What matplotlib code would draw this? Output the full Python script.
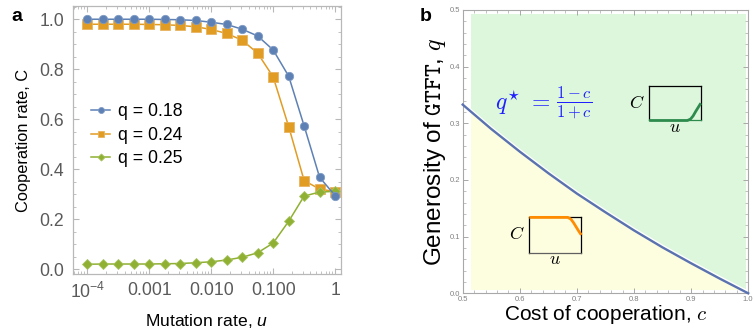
import numpy as np
import matplotlib
matplotlib.use('Agg')
import matplotlib.pyplot as plt
import matplotlib.transforms as mtransforms
from matplotlib.patches import Rectangle
from matplotlib.ticker import FixedLocator, MultipleLocator, LogLocator, NullFormatter, FixedFormatter

plt.rcParams['font.family'] = ['Liberation Sans', 'DejaVu Sans']
plt.rcParams['mathtext.fontset'] = 'custom'
plt.rcParams['mathtext.it'] = 'Liberation Sans:italic'
plt.rcParams['mathtext.rm'] = 'Liberation Sans'

# ---------------- data: panel a ----------------
mutation_rate = [0.0001, 0.000178, 0.000316, 0.000562, 0.001, 0.00178, 0.00316,
                 0.00562, 0.01, 0.0178, 0.0316, 0.0562, 0.1, 0.178, 0.316, 0.562, 1.0]
coop_q018 = [1.0, 1.0, 1.0, 1.0, 1.0, 0.999, 0.998, 0.995, 0.988, 0.979, 0.960,
             0.933, 0.877, 0.772, 0.573, 0.367, 0.294]
coop_q024 = [0.980, 0.980, 0.980, 0.980, 0.979, 0.978, 0.975, 0.970, 0.959, 0.943,
             0.916, 0.864, 0.769, 0.570, 0.354, 0.320, 0.310]
coop_q025 = [0.019, 0.020, 0.020, 0.020, 0.020, 0.021, 0.022, 0.025, 0.029, 0.036,
             0.047, 0.065, 0.104, 0.191, 0.292, 0.308, 0.311]
series_labels = ['q = 0.18', 'q = 0.24', 'q = 0.25']
xtick_values = [1e-4, 1e-3, 1e-2, 1e-1, 1]
xtick_labels = [r'10$^{-4}$', '0.001', '0.010', '0.100', '1']
ytick_values_a = [0.0, 0.2, 0.4, 0.6, 0.8, 1.0]

# ---------------- data: panel b ----------------
cost = [0.50, 0.55, 0.60, 0.65, 0.70, 0.75, 0.80, 0.85, 0.90, 0.95, 1.00]
q_star = [0.333, 0.290, 0.250, 0.212, 0.176, 0.143, 0.111, 0.081, 0.053, 0.026, 0.0]
inset_u = [0.0, 0.2, 0.4, 0.6, 0.7, 0.74, 0.8, 0.85, 0.9, 0.95, 1.0]
inset_C_below = [1.0, 1.0, 1.0, 1.0, 1.0, 1.0, 0.95, 0.85, 0.73, 0.61, 0.50]
inset_C_above = [0.0, 0.0, 0.0, 0.0, 0.0, 0.0, 0.04, 0.13, 0.26, 0.38, 0.50]

blue = '#5e81b5'
orange = '#e19c24'
green = '#8fb032'

W, H = 754, 335
fig = plt.figure(figsize=(W / 100, H / 100), dpi=100)

def fr(x0, y0, x1, y1):
    return [x0 / W, 1 - y1 / H, (x1 - x0) / W, (y1 - y0) / H]

# ================= panel a =================
ax = fig.add_axes(fr(72.7, 6, 340.7, 274))
ax.set_xscale('log')
ax.plot(mutation_rate, coop_q018, '-o', color=blue, lw=1.1, ms=6.0,
        mec='#7f9bc4', mew=0.6, label=series_labels[0], zorder=3)
ax.plot(mutation_rate, coop_q024, '-s', color=orange, lw=1.1, ms=6.6,
        mec='#e8b360', mew=0.6, label=series_labels[1], zorder=2)
ax.plot(mutation_rate, coop_q025, '-D', color=green, lw=1.1, ms=5.0,
        mec='#a6c35f', mew=0.6, label=series_labels[2], zorder=2)
ax.set_xlim(10 ** -4.236, 10 ** 0.09)
ax.set_ylim(-0.02, 1.053)
ax.xaxis.set_major_locator(FixedLocator(xtick_values))
ax.xaxis.set_major_formatter(FixedFormatter(xtick_labels))
ax.xaxis.set_minor_locator(LogLocator(base=10, subs=np.arange(2, 10)))
ax.xaxis.set_minor_formatter(NullFormatter())
ax.yaxis.set_major_locator(FixedLocator(ytick_values_a))
ax.yaxis.set_major_formatter(FixedFormatter(['%.1f' % v for v in ytick_values_a]))
ax.yaxis.set_minor_locator(MultipleLocator(0.05))
frame_a = '#b8b8b8'
for s in ax.spines.values():
    s.set_color(frame_a)
    s.set_linewidth(0.9)
ax.tick_params(which='both', direction='in', top=True, right=True, color=frame_a,
               labelcolor='#5a5a5a', labelsize=12.7)
ax.tick_params(which='major', length=4, width=0.8, pad=6)
ax.tick_params(which='minor', length=2, width=0.6)
ax.set_ylabel('Cooperation rate, C', fontsize=11.8, labelpad=6)
ax.set_xlabel(r'Mutation rate, $\mathit{u}$', fontsize=12.6, labelpad=7,
              math_fontfamily='custom')
ax.legend(loc='upper left', bbox_to_anchor=(91 / W, 1 - 103 / H),
          bbox_transform=fig.transFigure, frameon=False, fontsize=12.7,
          handlelength=1.1, handletextpad=0.45, labelspacing=0.38, markerscale=0.72,
          borderaxespad=0, borderpad=0)
fig.text(11 / W, 1 - 8 / H, 'a', fontsize=14, fontweight='bold', va='top', ha='left')

# ================= panel b =================
bx = fig.add_axes(fr(462.7, 10, 748.2, 293.3))
bx.set_xlim(0.5, 1.0)
bx.set_ylim(0.0, 0.5)
clip = Rectangle((0.514, 0.007), 0.482, 0.486, transform=bx.transData)
top = [0.6] * len(cost)
bot = [-0.1] * len(cost)
p1 = bx.fill_between(cost, q_star, top, color='#dcf7dc', lw=0, zorder=1)
p2 = bx.fill_between(cost, bot, q_star, color='#fdfde0', lw=0, zorder=1)
p1.set_clip_path(clip)
p2.set_clip_path(clip)
off = mtransforms.offset_copy(bx.transData, fig=fig, x=0, y=1.2, units='points')
bx.plot(cost, q_star, color='white', lw=1.6, transform=off, zorder=2,
        solid_capstyle='butt')
bx.plot(cost, q_star, color='#5a72b0', lw=1.7, zorder=3, clip_on=False)
bx.xaxis.set_major_locator(MultipleLocator(0.1))
bx.xaxis.set_minor_locator(MultipleLocator(0.02))
bx.yaxis.set_major_locator(MultipleLocator(0.1))
bx.yaxis.set_minor_locator(MultipleLocator(0.02))
bx.xaxis.set_major_formatter(matplotlib.ticker.FormatStrFormatter('%.1f'))
bx.yaxis.set_major_formatter(matplotlib.ticker.FormatStrFormatter('%.1f'))
frame_b = '#a8a8a8'
for s in bx.spines.values():
    s.set_color(frame_b)
    s.set_linewidth(0.8)
bx.tick_params(which='both', direction='in', top=True, right=True, color=frame_b,
               labelcolor='#808080', labelsize=5.5)
bx.tick_params(which='major', length=3.5, width=0.7, pad=2)
bx.tick_params(which='minor', length=2, width=0.5)
bx.set_xlabel(r'Cost of cooperation, $c$', fontsize=15, labelpad=0,
              math_fontfamily='cm')
bx.set_ylabel(r'Generosity of $\mathtt{GTFT}$, $q$', fontsize=17.5, labelpad=1,
              math_fontfamily='cm')
formula_col = '#1f1fff'
bx.text(0.556, 0.336, r'$q^{\star}\ \mathbf{=}$', color=formula_col,
        fontsize=17, ha='left', va='center', math_fontfamily='cm', zorder=4)
bx.text(0.663, 0.336, r'$\frac{1-c}{1+c}$', color=formula_col,
        fontsize=17, ha='left', va='center', math_fontfamily='cm', zorder=4)
fig.text(420 / W, 1 - 8 / H, 'b', fontsize=14, fontweight='bold', va='top', ha='left')

def make_inset(bounds, yvals, color, bottom_col):
    ia = bx.inset_axes(bounds, transform=bx.transData, zorder=5)
    ia.set_facecolor('none')
    ia.plot(inset_u, yvals, color=color, lw=2.0, clip_on=False, zorder=3,
            solid_capstyle='butt')
    ia.set_xlim(0, 1)
    ia.set_ylim(0, 1)
    ia.set_xticks([])
    ia.set_yticks([])
    for k, s in ia.spines.items():
        s.set_color('black')
        s.set_linewidth(0.9)
    ia.spines['bottom'].set_color(bottom_col)
    ia.set_ylabel('$C$', rotation=0, fontsize=13, labelpad=9, va='center',
                  math_fontfamily='cm')
    ia.set_xlabel('$u$', fontsize=13, labelpad=-1, math_fontfamily='cm')
    return ia

make_inset([0.6167, 0.072, 0.091, 0.062], inset_C_below, '#ff8c00', '#606060')
make_inset([0.8267, 0.305, 0.0903, 0.061], inset_C_above, '#2e8b4e', '#2e8b4e')

fig.savefig('out.png', dpi=100)
